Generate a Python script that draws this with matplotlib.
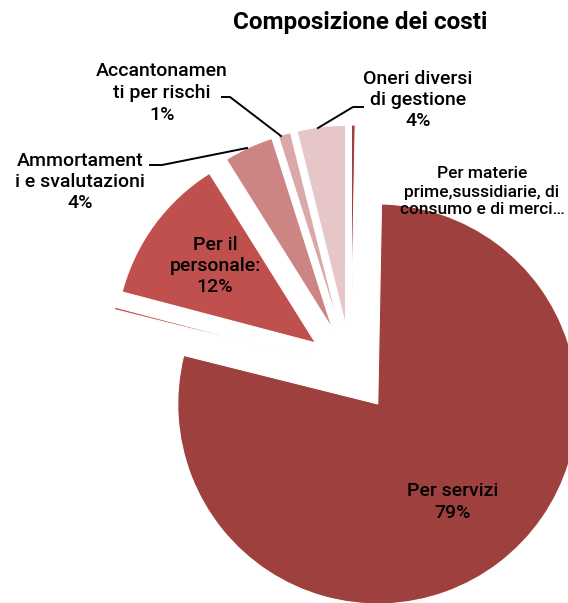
import matplotlib
matplotlib.use("Agg")
import matplotlib.pyplot as plt

categories = [
    "Per materie\nprime,sussidiarie, di\nconsumo e di merci…",
    "Per servizi",
    "Per godimento di beni di terzi",
    "Per il\npersonale:",
    "Ammortament\ni e svalutazioni",
    "Accantonamen\nti per rischi",
    "Oneri diversi\ndi gestione",
]
values = [0.3, 78.6, 0.2, 12.0, 4.0, 1.0, 3.9]
show_pct = [False, True, False, True, True, True, True]
colors = ["#9E413E", "#9E413E", "#C0504D", "#C0504D", "#CD8583", "#D9A8A7", "#E6C6C6"]

W, H = 568, 603
fig = plt.figure(figsize=(W / 100, H / 100), dpi=100)
ax = fig.add_axes([0, 0, 1, 1])

font = "Roboto"
cx, cy, r = 351, H - 369, 200
ax.pie(values, colors=colors, startangle=90, counterclock=False,
       center=(cx, cy), radius=r, explode=[44] * len(values),
       wedgeprops=dict(edgecolor="white", linewidth=0.8), frame=True)
ax.set_xlim(0, W)
ax.set_ylim(0, H)
ax.set_aspect("equal")
ax.axis("off")

total = sum(values)

def label(i):
    t = categories[i]
    if show_pct[i]:
        t += "\n" + f"{round(values[i] / total * 100)}%"
    return t

# label positions (pixels from top-left)
pos = {
    0: (482, 192, 12.5),
    1: (453, 502, 14),
    3: (215, 266, 14),
    4: (80, 182, 14),
    5: (162, 93, 14),
    6: (418, 100, 14),
}
for i, (x, y, fs) in pos.items():
    ax.text(x, H - y, label(i), ha="center", va="center", fontsize=fs,
            family=font, fontweight="medium", color="black", linespacing=1.25)

# leader lines
leaders = [
    [(222, 97), (230, 97), (281, 136)],
    [(150, 165), (162, 165), (247, 148)],
    [(363, 107), (353, 107), (318, 128)],
]
for pts in leaders:
    ax.plot([p[0] for p in pts], [H - p[1] for p in pts], color="black", lw=1.4)

ax.text(360, H - 22, "Composizione dei costi", ha="center", va="center",
        fontsize=17.5, fontweight="bold", family=font)

fig.savefig("out.png", dpi=100)
